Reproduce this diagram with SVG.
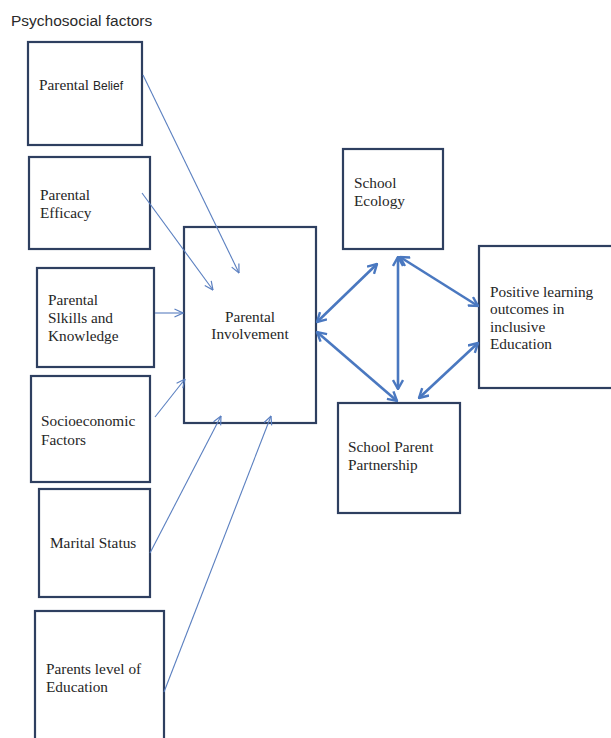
<svg xmlns="http://www.w3.org/2000/svg" width="611" height="738" viewBox="0 0 611 738">
<style>
.box{fill:#fff;stroke:#2e3f60;stroke-width:2.2}
.t{font-family:"Liberation Serif","Times New Roman",serif;font-size:15.3px;fill:#262626}
.thin{stroke:#5a7fc0;stroke-width:1.1;fill:none;marker-end:url(#ah)}
.thick{stroke:#4a78c0;stroke-width:2.6;fill:none;marker-end:url(#bh);marker-start:url(#bh)}
</style>
<defs>
<marker id="ah" viewBox="0 0 10 10" refX="9.5" refY="5" markerWidth="10" markerHeight="10" markerUnits="userSpaceOnUse" orient="auto">
<path d="M1,1 L9.5,5 L1,9" fill="none" stroke="#5a7fc0" stroke-width="1.2"/>
</marker>
<marker id="bh" viewBox="0 0 12 12" refX="11" refY="6" markerWidth="12" markerHeight="12" markerUnits="userSpaceOnUse" orient="auto-start-reverse">
<path d="M2,1 L11,6 L2,11" fill="none" stroke="#4a78c0" stroke-width="2.4"/>
</marker>
</defs>
<rect width="611" height="738" fill="#fff"/>
<text x="11" y="26" font-family="Liberation Sans, Arial, sans-serif" font-size="15.5" fill="#2a2a2a">Psychosocial factors</text>

<g id="belief"><rect class="box" x="28" y="42" width="114" height="103"/><text class="t" x="39" y="90">Parental <tspan font-family="Liberation Sans, Arial, sans-serif" font-size="12">Belief</tspan></text></g>
<g id="efficacy"><rect class="box" x="29" y="157" width="121" height="92"/><text class="t" x="40" y="200">Parental</text><text class="t" x="40" y="218">Efficacy</text></g>
<g id="skills"><rect class="box" x="37" y="268" width="117" height="99"/><text class="t" x="48" y="305">Parental</text><text class="t" x="48" y="323">Slkills and</text><text class="t" x="48" y="341">Knowledge</text></g>
<g id="socio"><rect class="box" x="31" y="376" width="119" height="106"/><text class="t" x="41" y="426">Socioeconomic</text><text class="t" x="41" y="445">Factors</text></g>
<g id="marital"><rect class="box" x="39" y="489" width="111" height="108"/><text class="t" x="50" y="548">Marital Status</text></g>
<g id="education"><rect class="box" x="35" y="611" width="129" height="140"/><text class="t" x="46" y="674">Parents level of</text><text class="t" x="46" y="692">Education</text></g>
<g id="involvement"><rect class="box" x="184" y="227" width="132" height="196"/><text class="t" x="250" y="322" text-anchor="middle">Parental</text><text class="t" x="250" y="339" text-anchor="middle">Involvement</text></g>
<g id="ecology"><rect class="box" x="343" y="149" width="100" height="100"/><text class="t" x="354" y="188">School</text><text class="t" x="354" y="206">Ecology</text></g>
<g id="outcomes"><rect class="box" x="479" y="246" width="140" height="142"/><text class="t" x="490" y="297">Positive learning</text><text class="t" x="490" y="314">outcomes in</text><text class="t" x="490" y="332">inclusive</text><text class="t" x="490" y="349">Education</text></g>
<g id="partnership"><rect class="box" x="338" y="403" width="122" height="110"/><text class="t" x="348" y="452">School Parent</text><text class="t" x="348" y="470">Partnership</text></g>

<g id="connectors">
<line class="thin" x1="143" y1="75" x2="239" y2="273"/>
<line class="thin" x1="142" y1="193" x2="213" y2="290"/>
<line class="thin" x1="155" y1="313" x2="183" y2="313"/>
<line class="thin" x1="155" y1="417" x2="185" y2="379"/>
<line class="thin" x1="150" y1="553" x2="221" y2="416"/>
<line class="thin" x1="164" y1="692" x2="271" y2="416"/>
<line class="thick" x1="317" y1="322" x2="377" y2="264"/>
<line class="thick" x1="317" y1="332" x2="397" y2="401"/>
<line class="thick" x1="398" y1="257" x2="398" y2="389"/>
<line class="thick" x1="400" y1="257" x2="478" y2="306"/>
<line class="thick" x1="419" y1="398" x2="478" y2="343"/>
</g>
</svg>
